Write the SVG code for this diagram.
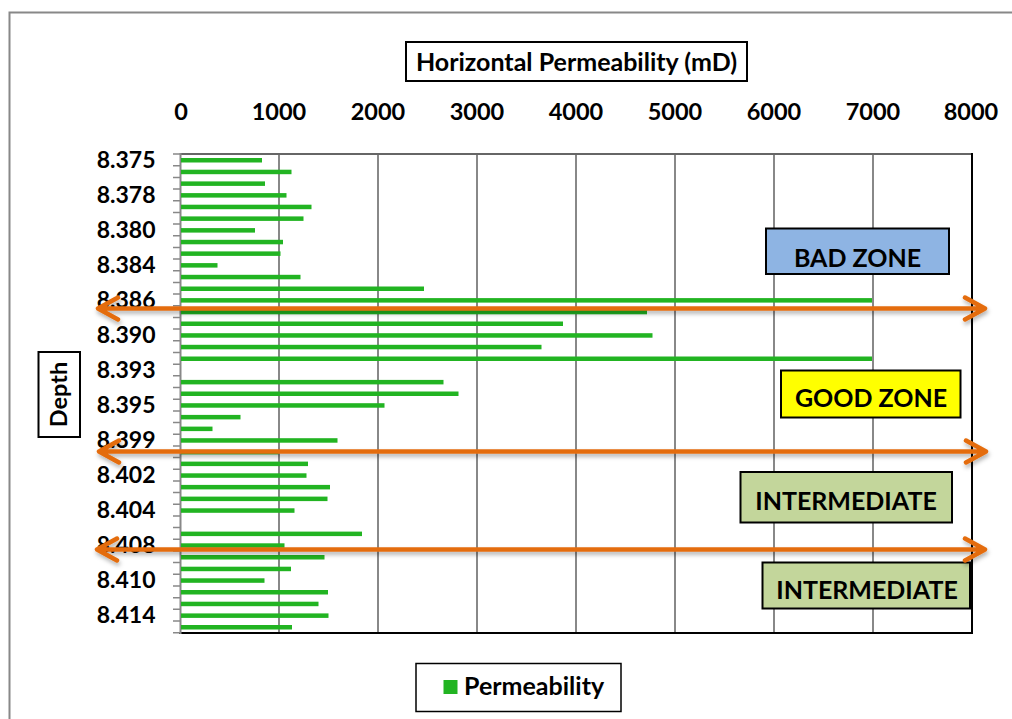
<svg xmlns="http://www.w3.org/2000/svg" width="1012" height="719" viewBox="0 0 1012 719">
<style>
.lbl{font-family:Lato,"Liberation Sans",sans-serif;font-weight:bold;fill:#000}
.ax{font-size:25px}
.yl{font-size:23px;text-anchor:end}
.xl{font-size:23.5px;text-anchor:middle}
.zone{font-size:25px;text-anchor:middle}
.box{stroke:#000;stroke-width:2}
.grid{stroke:#888;stroke-width:2}
.tick{stroke:#888;stroke-width:1.5}
.bar{fill:#22B422}
.arrow{fill:none;stroke:#E46C0A;stroke-width:4.5;stroke-linecap:round;stroke-linejoin:round}
</style>
<defs>
<filter id="sh" x="-5%" y="-50%" width="110%" height="200%">
<feDropShadow dx="1" dy="3" stdDeviation="2" flood-color="#000" flood-opacity="0.3"/>
</filter>
</defs>
<rect width="1012" height="719" fill="#fff"/>
<path d="M9.5 720 V12.5 H1013" fill="none" stroke="#888" stroke-width="2"/>
<g id="plot">
<g id="gridlines">
<line class="grid" x1="279" y1="154" x2="279" y2="633"/>
<line class="grid" x1="378" y1="154" x2="378" y2="633"/>
<line class="grid" x1="477" y1="154" x2="477" y2="633"/>
<line class="grid" x1="576" y1="154" x2="576" y2="633"/>
<line class="grid" x1="675" y1="154" x2="675" y2="633"/>
<line class="grid" x1="774" y1="154" x2="774" y2="633"/>
<line class="grid" x1="873" y1="154" x2="873" y2="633"/>
</g>
<line x1="180" y1="154" x2="972" y2="154" stroke="#666" stroke-width="2"/>
<line x1="972" y1="153" x2="972" y2="634" stroke="#000" stroke-width="2"/>
<line x1="179" y1="633" x2="973" y2="633" stroke="#000" stroke-width="2"/>
<line x1="180.5" y1="153" x2="180.5" y2="634" stroke="#888" stroke-width="2"/>
<g id="ticks">
<path class="tick" d="M173 154H180M173 165.7H180M173 177.4H180M173 189H180M173 200.7H180M173 212.4H180M173 224H180M173 235.7H180M173 247.4H180M173 259.1H180M173 270.8H180M173 282.4H180M173 294.1H180M173 305.8H180M173 317.5H180M173 329.1H180M173 340.8H180M173 352.5H180M173 364.2H180M173 375.8H180M173 387.5H180M173 399.2H180M173 410.9H180M173 422.5H180M173 434.2H180M173 445.9H180M173 457.6H180M173 469.2H180M173 480.9H180M173 492.6H180M173 504.3H180M173 515.9H180M173 527.6H180M173 539.3H180M173 551H180M173 562.6H180M173 574.3H180M173 586H180M173 597.7H180M173 609.3H180M173 621H180M173 632.7H180"/>
</g>
<g id="bars">
<rect class="bar" x="181" y="158" width="81" height="4.5"/>
<rect class="bar" x="181" y="169.7" width="110.5" height="4.5"/>
<rect class="bar" x="181" y="181.4" width="84" height="4.5"/>
<rect class="bar" x="181" y="193.1" width="105.5" height="4.5"/>
<rect class="bar" x="181" y="204.7" width="130.5" height="4.5"/>
<rect class="bar" x="181" y="216.4" width="122.5" height="4.5"/>
<rect class="bar" x="181" y="228.1" width="74" height="4.5"/>
<rect class="bar" x="181" y="239.8" width="102" height="4.5"/>
<rect class="bar" x="181" y="251.4" width="99.5" height="4.5"/>
<rect class="bar" x="181" y="263.1" width="36.5" height="4.5"/>
<rect class="bar" x="181" y="274.8" width="119.5" height="4.5"/>
<rect class="bar" x="181" y="286.5" width="243" height="4.5"/>
<rect class="bar" x="181" y="298.1" width="691" height="4.5"/>
<rect class="bar" x="181" y="309.8" width="466" height="4.5"/>
<rect class="bar" x="181" y="321.5" width="382" height="4.5"/>
<rect class="bar" x="181" y="333.2" width="471.5" height="4.5"/>
<rect class="bar" x="181" y="344.8" width="360.5" height="4.5"/>
<rect class="bar" x="181" y="356.5" width="691" height="4.5"/>
<rect class="bar" x="181" y="379.9" width="262.5" height="4.5"/>
<rect class="bar" x="181" y="391.5" width="277.5" height="4.5"/>
<rect class="bar" x="181" y="403.2" width="203.5" height="4.5"/>
<rect class="bar" x="181" y="414.9" width="59.5" height="4.5"/>
<rect class="bar" x="181" y="426.6" width="31.5" height="4.5"/>
<rect class="bar" x="181" y="438.2" width="156.5" height="4.5"/>
<rect class="bar" x="181" y="449.9" width="97.5" height="4.5"/>
<rect class="bar" x="181" y="461.6" width="127" height="4.5"/>
<rect class="bar" x="181" y="473.3" width="125.5" height="4.5"/>
<rect class="bar" x="181" y="484.9" width="149" height="4.5"/>
<rect class="bar" x="181" y="496.6" width="146.5" height="4.5"/>
<rect class="bar" x="181" y="508.3" width="113.5" height="4.5"/>
<rect class="bar" x="181" y="531.6" width="181" height="4.5"/>
<rect class="bar" x="181" y="543.3" width="103.5" height="4.5"/>
<rect class="bar" x="181" y="555" width="143.5" height="4.5"/>
<rect class="bar" x="181" y="566.7" width="110" height="4.5"/>
<rect class="bar" x="181" y="578.3" width="83.5" height="4.5"/>
<rect class="bar" x="181" y="590" width="147" height="4.5"/>
<rect class="bar" x="181" y="601.7" width="137.5" height="4.5"/>
<rect class="bar" x="181" y="613.4" width="147.5" height="4.5"/>
<rect class="bar" x="181" y="625" width="111" height="4.5"/>
</g>
<g id="x-labels" class="lbl xl">
<text x="181" y="120">0</text>
<text x="279" y="120">1000</text>
<text x="378" y="120">2000</text>
<text x="477" y="120">3000</text>
<text x="576" y="120">4000</text>
<text x="675" y="120">5000</text>
<text x="774" y="120">6000</text>
<text x="873" y="120">7000</text>
<text x="971" y="120">8000</text>
</g>
<g id="y-labels" class="lbl yl">
<text x="155.5" y="168.3">8.375</text>
<text x="155.5" y="203.3">8.378</text>
<text x="155.5" y="238.3">8.380</text>
<text x="155.5" y="273.3">8.384</text>
<text x="155.5" y="308.3">8.386</text>
<text x="155.5" y="343.3">8.390</text>
<text x="155.5" y="378.3">8.393</text>
<text x="155.5" y="413.3">8.395</text>
<text x="155.5" y="448.3">8.399</text>
<text x="155.5" y="483.3">8.402</text>
<text x="155.5" y="518.3">8.404</text>
<text x="155.5" y="553.3">8.408</text>
<text x="155.5" y="588.3">8.410</text>
<text x="155.5" y="623.3">8.414</text>
</g>
</g>
<g id="title">
<rect class="box" x="406" y="42" width="341" height="39" fill="#fff"/>
<text class="lbl ax" x="576.5" y="71" text-anchor="middle">Horizontal Permeability (mD)</text>
</g>
<g id="depth-title">
<rect class="box" x="38.5" y="352" width="41.5" height="85" fill="#fff"/>
<text class="lbl" font-size="23.5" x="0" y="0" text-anchor="middle" transform="translate(67 394.5) rotate(-90)">Depth</text>
</g>
<g id="bad-zone">
<rect class="box" x="766" y="228.5" width="183" height="45.5" fill="#8EB4E3"/>
<text class="lbl zone" x="857.5" y="266.5">BAD ZONE</text>
</g>
<g id="good-zone">
<rect class="box" x="781" y="370.5" width="179.5" height="47" fill="#FFFF00"/>
<text class="lbl zone" x="871" y="407">GOOD ZONE</text>
</g>
<g id="intermediate-1">
<rect class="box" x="740.5" y="472" width="211.5" height="50.5" fill="#C3D69B"/>
<text class="lbl zone" x="846" y="509.5">INTERMEDIATE</text>
</g>
<g id="intermediate-2">
<rect class="box" x="762.5" y="562.5" width="207.5" height="46" fill="#C3D69B"/>
<text class="lbl zone" x="867" y="599">INTERMEDIATE</text>
</g>
<g id="connectors" filter="url(#sh)">
<path class="arrow" d="M98 308.5H985M118 297.5L98 308.5L118 319.5M965 297.5L985 308.5L965 319.5"/>
<path class="arrow" d="M99 451.5H986M119 440.5L99 451.5L119 462.5M966 440.5L986 451.5L966 462.5"/>
<path class="arrow" d="M97 549.5H985M117 538.5L97 549.5L117 560.5M965 538.5L985 549.5L965 560.5"/>
</g>
<g id="legend">
<rect x="416" y="663.5" width="205" height="48" fill="#fff" stroke="#000" stroke-width="1.5"/>
<rect x="443.5" y="680" width="14" height="14" fill="#22B422"/>
<text class="lbl ax" x="464" y="695">Permeability</text>
</g>
</svg>
